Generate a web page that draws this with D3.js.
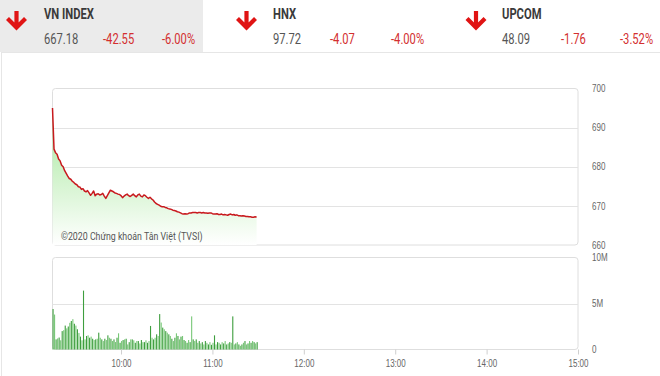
<!DOCTYPE html>
<html><head><meta charset="utf-8">
<script src="https://cdn.jsdelivr.net/npm/d3@7"></script>
<style>
html,body{margin:0;padding:0;background:#fff;}
svg{display:block;font-family:Roboto,"Noto Sans",sans-serif;}
</style></head>
<body><svg id="c" width="660" height="376"></svg>
<script>
// ---- data ----
const indexNames = ["VN INDEX", "HNX", "UPCOM"];
const indexValues = ["667.18", "97.72", "48.09"];
const indexChanges = ["-42.55", "-4.07", "-1.76"];
const indexPercents = ["-6.00%", "-4.00%", "-3.52%"];
const startTime = "09:15";
const priceTicks = [660, 670, 680, 690, 700];
const volumeTicks = [0, 5, 10];
const volumeTickLabels = ["0", "5M", "10M"];
const hourTicks = ["10:00", "11:00", "12:00", "13:00", "14:00", "15:00"];
const watermark = "©2020 Chứng khoán Tân Việt (TVSI)";
// VN-Index, one value per minute from 09:15
const price = [
695.0,684.5,683.6,683.2,682.0,681.5,680.4,680.0,679.0,678.3,
677.6,677.0,676.8,676.3,676.0,675.6,675.4,674.9,674.8,674.2,
674.4,673.8,673.6,673.9,673.3,672.7,673.2,673.8,672.6,673.0,
673.1,672.8,672.9,673.2,672.5,671.9,672.6,673.3,674.0,673.8,
673.6,673.3,673.2,673.0,672.9,672.6,672.1,672.5,672.8,673.0,
672.6,672.4,672.7,673.0,672.6,672.3,672.8,673.0,672.5,672.3,
672.8,672.6,672.2,671.9,672.2,671.8,671.5,671.0,670.6,670.4,
670.2,669.9,669.8,669.8,669.6,669.5,669.3,669.2,669.1,668.9,
668.8,668.7,668.5,668.4,668.2,668.0,667.9,668.0,667.9,668.0,
668.2,668.2,668.3,668.3,668.3,668.2,668.3,668.3,668.2,668.3,
668.2,668.2,668.1,668.2,668.2,668.0,667.9,667.9,668.0,667.8,
667.8,667.9,667.7,667.8,667.7,667.6,667.8,667.9,667.7,667.8,
667.6,667.7,667.5,667.5,667.4,667.5,667.4,667.3,667.3,667.2,
667.2,667.1,667.1,667.2,667.18];
// volume in millions, one bar per minute from 09:15
const volume = [
4.4,3.8,1.1,1.2,1.3,1.0,2.0,2.1,2.6,2.3,
2.5,2.9,3.1,3.3,2.8,2.6,2.2,1.8,1.4,1.0,
6.4,1.1,1.47,1.54,1.28,1.4,1.17,1.03,1.1,1.17,
1.83,1.28,1.1,0.92,1.17,1.03,1.54,1.28,1.17,0.92,
1.1,0.81,1.28,1.76,0.73,0.92,1.03,1.1,1.17,0.55,
0.8,1.1,1.1,1.0,0.73,0.92,0.92,0.66,1.03,0.8,
0.8,1.0,0.73,0.92,2.56,1.28,1.1,1.28,1.65,1.47,
3.85,2.93,2.38,2.2,2.0,1.83,1.65,1.47,1.17,0.92,
1.28,1.76,1.47,1.1,1.4,1.47,1.03,0.92,0.73,1.03,
0.8,3.6,1.1,0.92,1.1,0.73,0.92,0.66,0.8,0.55,
0.92,0.73,0.55,0.8,0.51,0.73,1.54,0.55,0.8,0.73,
0.55,0.8,0.66,0.92,0.55,0.66,0.8,0.73,3.6,0.55,
0.66,0.8,0.55,0.4,0.55,0.73,0.92,0.55,0.66,0.92,
0.73,0.92,0.8,0.66,0.8];

// ---- build ----
const svg = d3.select("#c");
const parse = d3.timeParse("%H:%M");
const t0 = parse(startTime);
const times = price.map((_, i) => d3.timeMinute.offset(t0, i));
const ptsP = price.map((v, i) => ({t: times[i], v}));
const ptsV = volume.map((v, i) => ({t: d3.timeMinute.offset(t0, i), v}));

const x = d3.scaleTime().domain([t0, parse("15:00")]).range([52.5, 578]);
const yP = d3.scaleLinear().domain([660, 700]).range([245, 88.5]);
const yV = d3.scaleLinear().domain([0, 10]).range([349.5, 257.5]);

// container + header
svg.append("rect").attr("x",1.5).attr("y",52.5).attr("width",700).attr("height",400)
  .attr("fill","none").attr("stroke","#e6e6e6");
svg.append("rect").attr("x",0).attr("y",0).attr("width",203).attr("height",52).attr("fill","#ebebeb");

const hdrX = [44, 273, 502];
const arrowX = [16.5, 246.5, 476];
const defs = svg.append("defs");
indexNames.forEach((n, i) => {
  const g = svg.append("g");
  const ax = arrowX[i];
  g.append("path").attr("d", `M${ax},11 V27 M${ax-9},18.5 L${ax},27.5 L${ax+9},18.5`)
    .attr("fill","none").attr("stroke","#e01414").attr("stroke-width",4.2)
    .attr("stroke-linejoin","miter").attr("stroke-linecap","butt");
  g.append("text").attr("class","narrow").attr("x",hdrX[i]).attr("y",19)
    .attr("font-size",14).attr("font-weight","bold").attr("fill","#3a3a3a").text(n);
  g.append("text").attr("class","narrow").attr("x",hdrX[i]).attr("y",44)
    .attr("font-size",14).attr("fill","#555").text(indexValues[i]);
  g.append("text").attr("class","narrow").attr("x",hdrX[i]+(i===0?59:(i===1?57:59))).attr("y",44)
    .attr("font-size",14).attr("fill","#d32f2f").text(indexChanges[i]);
  g.append("text").attr("class","narrow").attr("x",hdrX[i]+(i===0?118:118)).attr("y",44)
    .attr("font-size",14).attr("fill","#d32f2f").text(indexPercents[i]);
});

// gradient
const grad = defs.append("linearGradient").attr("id","ga").attr("gradientUnits","userSpaceOnUse")
  .attr("x1",0).attr("x2",0).attr("y1",yP(695)).attr("y2",yP(660));
grad.append("stop").attr("offset",0).attr("stop-color","#8fdc84");
grad.append("stop").attr("offset",0.35).attr("stop-color","#c3efbc");
grad.append("stop").attr("offset",1).attr("stop-color","#ffffff");

// price panel frame + grid
svg.append("rect").attr("x",52.5).attr("y",88.5).attr("width",525.5).attr("height",156.5)
  .attr("rx",3).attr("fill","none").attr("stroke","#dedede");
svg.append("g").selectAll("line").data(priceTicks.slice(1,-1)).join("line")
  .attr("x1",52.5).attr("x2",578).attr("y1",d=>Math.round(yP(d))+0.5).attr("y2",d=>Math.round(yP(d))+0.5)
  .attr("stroke","#e3e3e3");

svg.append("path").datum(ptsP)
  .attr("d", d3.area().x(d=>x(d.t)).y0(yP(660)).y1(d=>yP(d.v)))
  .attr("fill","url(#ga)");
svg.append("text").attr("class","narrow").attr("x",61).attr("y",240).attr("font-size",11)
  .attr("fill","#555").text(watermark);
svg.append("path").datum(ptsP)
  .attr("d", d3.line().x(d=>x(d.t)).y(d=>yP(d.v)))
  .attr("fill","none").attr("stroke","#c8191e").attr("stroke-width",1.5).attr("stroke-linejoin","round");

const axP = svg.append("g").attr("transform","translate(578,0)")
  .call(d3.axisRight(yP).tickValues(priceTicks).tickSize(0).tickPadding(14).tickFormat(d3.format("d")));
axP.select(".domain").remove();
axP.selectAll("text").attr("class","narrow").attr("font-size",10).attr("fill","#666").attr("font-family",null);

// volume panel
svg.append("rect").attr("x",52.5).attr("y",257.5).attr("width",525.5).attr("height",92)
  .attr("rx",3).attr("fill","none").attr("stroke","#dedede");
svg.append("line").attr("x1",52.5).attr("x2",578).attr("y1",Math.round(yV(5))+0.5).attr("y2",Math.round(yV(5))+0.5)
  .attr("stroke","#e3e3e3");
svg.append("g").selectAll("rect").data(ptsV).join("rect")
  .attr("x",d=>x(d.t)).attr("width",1.1)
  .attr("y",d=>yV(d.v)).attr("height",d=>yV(0)-yV(d.v))
  .attr("fill",(d,i)=> i%2 ? "#78c878" : "#3e9e3e");

const axV = svg.append("g").attr("transform","translate(578,0)")
  .call(d3.axisRight(yV).tickValues(volumeTicks).tickSize(0).tickPadding(14).tickFormat((d,i)=>volumeTickLabels[i]));
axV.select(".domain").remove();
axV.selectAll("text").attr("class","narrow").attr("font-size",10).attr("fill","#666").attr("font-family",null);

const axX = svg.append("g").attr("transform","translate(0,349.5)")
  .call(d3.axisBottom(x).tickValues(hourTicks.map(parse)).tickSize(5).tickPadding(5).tickFormat(d3.timeFormat("%H:%M")));
axX.select(".domain").remove();
axX.selectAll("line").attr("stroke","#cfcfcf");
axX.selectAll("text").attr("class","narrow").attr("font-size",10).attr("fill","#666").attr("font-family",null);

// condensed look of the reference typography
svg.selectAll("text.narrow").each(function(){
  const w = this.getComputedTextLength();
  d3.select(this).attr("textLength", (w*0.8).toFixed(1)).attr("lengthAdjust","spacingAndGlyphs");
});
</script></body></html>
